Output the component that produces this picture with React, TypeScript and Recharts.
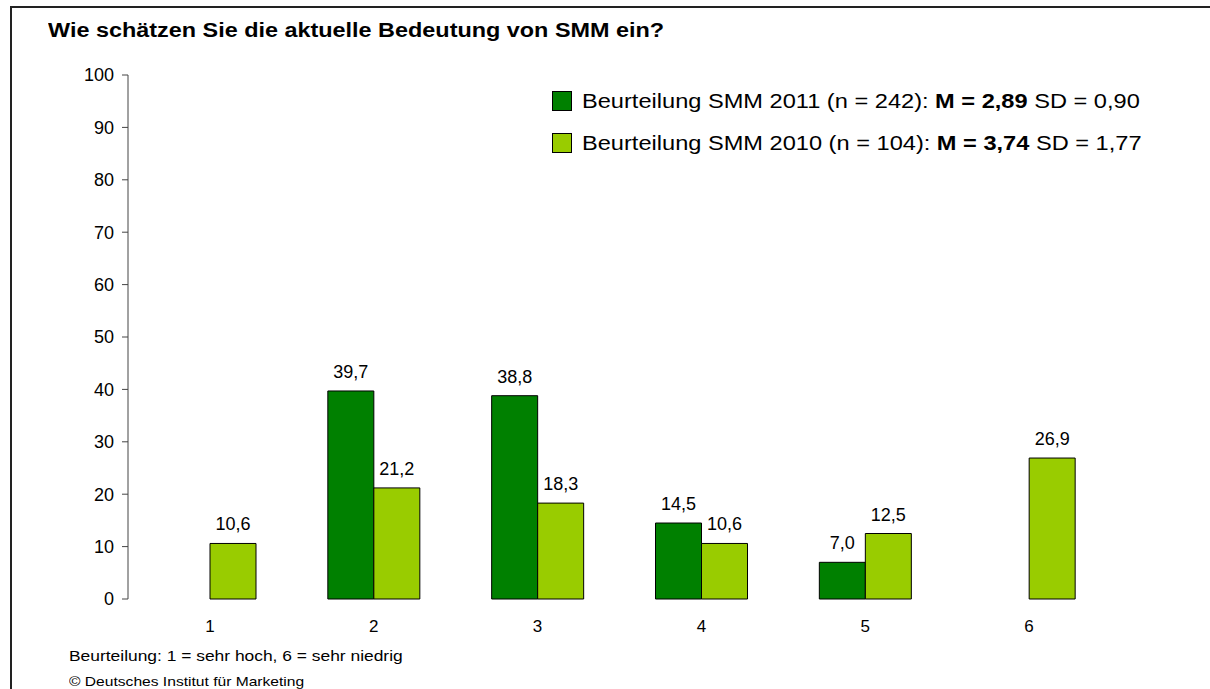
import React from 'react';
import { BarChart, Bar, XAxis, YAxis, Legend, LabelList } from 'recharts';

const categories = ['1', '2', '3', '4', '5', '6'];
const values2011 = [null, 39.7, 38.8, 14.5, 7.0, null];
const values2010 = [10.6, 21.2, 18.3, 10.6, 12.5, 26.9];
const yTicks = [0, 10, 20, 30, 40, 50, 60, 70, 80, 90, 100];
const edgeTicks = [0, 1, 2, 3, 4, 5, 6];

const seriesLabels = ['Beurteilung SMM 2011 (n = 242): ', 'Beurteilung SMM 2010 (n = 104): '];
const seriesMeans = ['M = 2,89', 'M = 3,74'];
const seriesSD = [' SD = 0,90', ' SD = 1,77'];

const DARK = '#008000';
const LIGHT = '#99CC00';
const FONT = '"Liberation Sans", Arial, sans-serif';

const data = categories.map((c, i) => ({
  cat: c,
  idx: i + 0.5,
  y2011: values2011[i],
  y2010: values2010[i],
}));

const fmt = (v: any) => (v == null ? '' : Number(v).toFixed(1).replace('.', ','));

// the reference text is a bit wider than it is tall
const stretch = (sx: number): React.CSSProperties => ({
  transform: `scaleX(${sx})`,
  transformOrigin: 'left center',
  whiteSpace: 'nowrap',
});

function LegendBox() {
  const colors = [DARK, LIGHT];
  return (
    <div style={{ fontFamily: FONT, fontSize: 20, color: '#000' }}>
      {seriesLabels.map((lbl, i) => (
        <div key={i} style={{ display: 'flex', alignItems: 'center', height: 42, whiteSpace: 'nowrap' }}>
          <span
            style={{
              display: 'inline-block',
              width: 18,
              height: 18,
              background: colors[i],
              border: '1px solid #000',
              marginRight: 10,
              flex: 'none',
            }}
          />
          <span style={{ ...stretch(1.18), display: 'inline-block' }}>
            {lbl}
            <b>{seriesMeans[i]}</b>
            {seriesSD[i]}
          </span>
        </div>
      ))}
    </div>
  );
}

export default function App() {
  return (
    <div style={{ position: 'relative', width: 1210, height: 689, overflow: 'hidden', background: '#fff' }}>
      <style>{'html, body { margin: 0; padding: 0; overflow: hidden; }'}</style>
      {/* Rahmen: nur oben und links sichtbar */}
      <svg width={1210} height={689} style={{ position: 'absolute', left: 0, top: 0, display: 'block' }}>
        <path d="M11 689 V7 H1210" fill="none" stroke="#222" strokeWidth={2} />
      </svg>
      <div
        style={{
          position: 'absolute',
          left: 48,
          top: 19,
          fontFamily: FONT,
          fontWeight: 'bold',
          fontSize: 20,
          ...stretch(1.17),
        }}
      >
        Wie schätzen Sie die aktuelle Bedeutung von SMM ein?
      </div>

      <div style={{ position: 'absolute', left: 0, top: 0 }}>
        <BarChart
          width={1210}
          height={689}
          data={data}
          margin={{ top: 75, right: 99, left: 68, bottom: 60 }}
          barGap={0}
          barSize={46}
        >
          <XAxis
            xAxisId="edges"
            type="number"
            dataKey="idx"
            domain={[0, 6]}
            ticks={edgeTicks}
            allowDataOverflow
            height={0}
            tick={() => <g />}
            tickSize={6}
            axisLine={{ stroke: '#444' }}
            tickLine={{ stroke: '#444' }}
          />
          <XAxis
            xAxisId="cat"
            dataKey="cat"
            height={30}
            axisLine={false}
            tickLine={false}
            tickSize={0}
            tickMargin={21}
            tick={{ fontFamily: FONT, fontSize: 17, fill: '#000' }}
          />
          <YAxis
            domain={[0, 100]}
            ticks={yTicks}
            width={60}
            tickSize={6}
            tickMargin={8}
            axisLine={{ stroke: '#444' }}
            tickLine={{ stroke: '#444' }}
            tick={{ fontFamily: FONT, fontSize: 18, fill: '#000' }}
          />
          <Legend
            layout="horizontal"
            verticalAlign="middle"
            align="center"
            content={() => <LegendBox />}
            wrapperStyle={{ position: 'absolute', left: 552, top: 80, width: 600 }}
          />
          <Bar xAxisId="cat" dataKey="y2011" fill={DARK} stroke="#000" strokeWidth={1} isAnimationActive={false}>
            <LabelList dataKey="y2011" position="top" offset={13} formatter={fmt} style={{ fontFamily: FONT, fontSize: 18, fill: '#000' }} />
          </Bar>
          <Bar xAxisId="cat" dataKey="y2010" fill={LIGHT} stroke="#000" strokeWidth={1} isAnimationActive={false}>
            <LabelList dataKey="y2010" position="top" offset={13} formatter={fmt} style={{ fontFamily: FONT, fontSize: 18, fill: '#000' }} />
          </Bar>
        </BarChart>
      </div>

      <div style={{ position: 'absolute', left: 69, top: 647, fontFamily: FONT, fontSize: 15, ...stretch(1.16) }}>
        Beurteilung: 1 = sehr hoch, 6 = sehr niedrig
      </div>
      <div style={{ position: 'absolute', left: 69, top: 674, fontFamily: FONT, fontSize: 13, ...stretch(1.2) }}>
        © Deutsches Institut für Marketing
      </div>
    </div>
  );
}
